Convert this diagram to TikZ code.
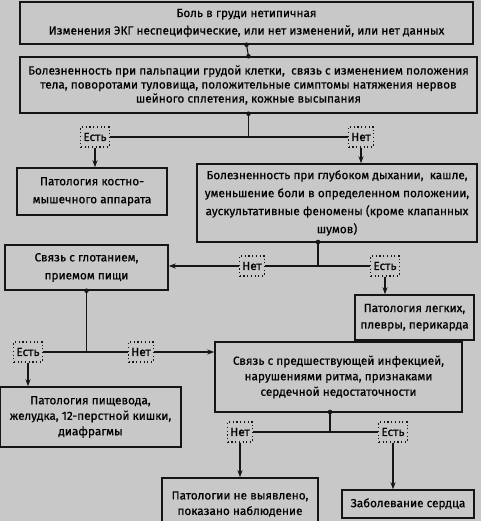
\documentclass[tikz,border=0pt]{standalone}
\usepackage{fontspec}
\setmainfont{Fira Sans}[FakeBold=0.6]
\usepackage{xcolor}
\usepackage{tikz}
\usetikzlibrary{arrows.meta,positioning,backgrounds}
\definecolor{cBg}{HTML}{C8C8C8}
\definecolor{cInk}{HTML}{151515}
\tikzset{
  >={Stealth[length=7pt,width=5pt]},
  box/.style={draw=cInk, fill=cBg, line width=1.5pt, align=center,
              font=\fontsize{11.8}{#1}\selectfont, inner sep=2pt},
  box/.default=15.5,
  ans/.style={draw=cInk, fill=cBg, line width=1.1pt, inner sep=2.5pt,
              dash pattern=on 1.1pt off 2.6pt,
              font=\fontsize{11.8}{14}\selectfont, minimum height=20pt},
  link/.style={line width=1.1pt, cInk},
  flow/.style={->, line width=1.1pt, cInk},
}
\newcommand{\jdot}[1]{\fill[cInk] (#1) circle (2.3pt)}

\begin{document}
\begin{tikzpicture}[x=1pt, y=-1pt]
  \clip (0,0) rectangle (481,521);

  % boxes
  \node[box=17.5, minimum width=453pt, minimum height=42pt] (start)  at (246.5,23)
       {Боль в груди нетипичная\\Изменения ЭКГ неспецифические, или нет изменений, или нет данных};
  \node[box=14, minimum width=457pt, minimum height=56pt] (palp)   at (248.5,85)
       {Болезненность при пальпации грудой клетки,\ \ связь с изменением положения\\
        тела, поворотами туловища, положительные симптомы натяжения нервов\\
        шейного сплетения, кожные высыпания};
  \node[box=18, minimum width=150pt, minimum height=47pt] (musc)   at (92,191.5)
       {Патология костно-\\мышечного аппарата};
  \node[box=18, minimum width=280pt, minimum height=78pt] (breath) at (337,203)
       {Болезненность при глубоком дыхании,\ \ кашле,\\
        уменьшение боли в определенном положении,\\
        аускультативные феномены (кроме клапанных\\шумов)};
  \node[box=18, minimum width=163pt, minimum height=45pt] (swal)   at (86.5,267.5)
       {Связь с глотанием,\\приемом пищи};
  \node[box=16.5, minimum width=119pt, minimum height=45pt] (lung)   at (414.5,317.5)
       {Патология легких,\\плевры, перикарда};
  \node[box, minimum width=247pt, minimum height=70pt] (infect) at (338.5,377)
       {Связь с предшествующей инфекцией,\\нарушениями ритма, признаками\\сердечной недостаточности};
  \node[box, minimum width=181pt, minimum height=60pt] (gastro) at (90.5,417)
       {Патология пищевода,\\желудка, 12-перстной кишки,\\диафрагмы};
  \node[box, minimum width=156pt, minimum height=52pt] (none)   at (240,504)
       {Патологии не выявлено,\\показано наблюдение};
  \node[box, minimum width=132pt, minimum height=28pt] (heart)  at (408,504)
       {Заболевание сердца};

  \coordinate (j2) at (318,242);
  \coordinate (j4) at (330,412);

  % answers
  \node[ans] (yes1) at (95,137)  {Есть};
  \node[ans] (no1)  at (361,137) {Нет};
  \node[ans] (no2)  at (252,266) {Нет};
  \node[ans] (yes2) at (385,266) {Есть};
  \node[ans] (yes3) at (28,352)  {Есть};
  \node[ans] (no3)  at (141,352) {Нет};
  \node[ans] (no4)  at (240,432) {Нет};
  \node[ans] (yes4) at (393,432) {Есть};

  \begin{scope}[on background layer]
  \fill[cBg] (0,0) rectangle (481,521);
  \draw[link] (start.south) -- (palp.north);
  \draw[link] (palp.south) -- (palp.south |- yes1);
  \draw[link] (yes1) -- (no1);
  \draw[link] (j2) -- (j2 |- no2);
  \draw[link] (no2) -- (yes2);
  \draw[link] (swal.south) -- (swal.south |- yes3);
  \draw[link] (yes3) -- (no3);
  \draw[link] (j4) -- (j4 |- no4);
  \draw[link] (no4) -- (yes4);
  \end{scope}

  \draw[flow] (yes1.south) -- (yes1.south |- musc.north);
  \draw[flow] (no1.south)  -- (no1.south |- breath.north);
  \draw[flow] (no2.west)   -- (no2.west -| swal.east);
  \draw[flow] (yes2.south) -- (yes2.south |- lung.north);
  \draw[flow] (yes3.south) -- (yes3.south |- gastro.north);
  \draw[flow] (no3.east)   -- (no3.east -| infect.west);
  \draw[flow] (no4.south)  -- (no4.south |- none.north);
  \draw[flow] (yes4.south) -- (yes4.south |- heart.north);

  \jdot{start.south}; \jdot{palp.north}; \jdot{palp.south};
  \jdot{j2}; \jdot{swal.south}; \jdot{j4};
\end{tikzpicture}
\end{document}
